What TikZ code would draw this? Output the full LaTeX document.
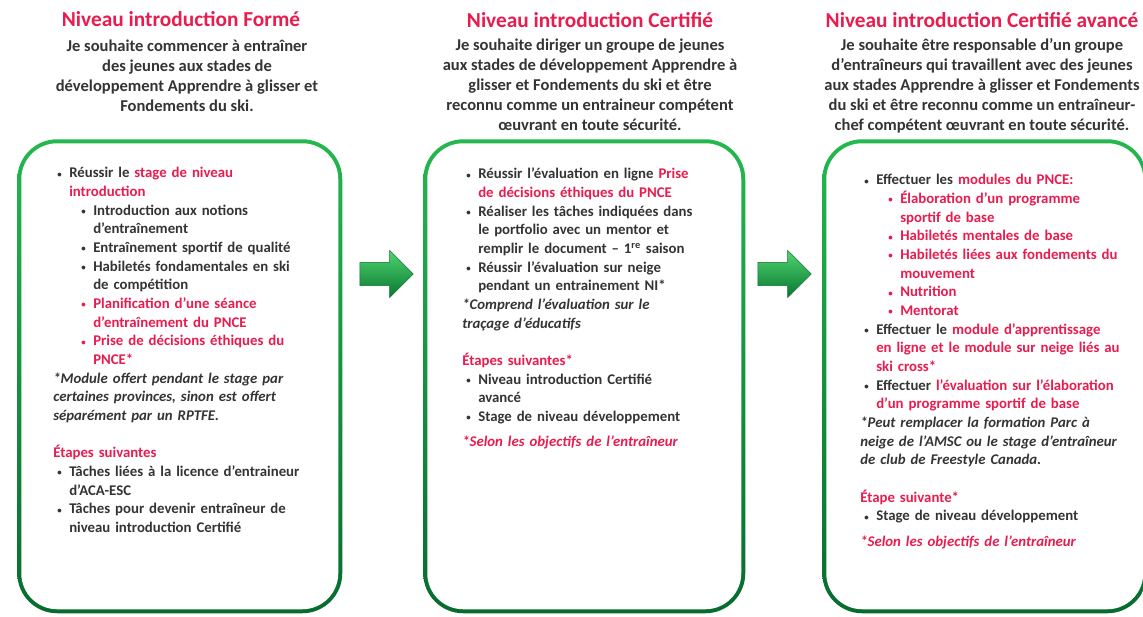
\documentclass[tikz,border=0pt]{standalone}
\usepackage{fontspec}
\setmainfont{Carlito}
\usepackage{enumitem}
\usetikzlibrary{shapes.arrows,calc}

\definecolor{stagered}{RGB}{232,28,78}
\definecolor{stagetext}{RGB}{52,52,52}
\definecolor{framelight}{RGB}{36,184,78}
\definecolor{framedark}{RGB}{6,108,46}
\definecolor{arrowlight}{RGB}{80,212,112}
\definecolor{arrowdark}{RGB}{8,118,48}

\newcommand{\rd}[1]{\textcolor{stagered}{#1}}
\newcommand{\dotbul}{\raisebox{0.1ex}{\scalebox{0.6}{\textbullet}}}
\newcommand{\rbul}{\textcolor{stagered}{\dotbul}}

\setlist[itemize]{nosep, label=\dotbul, labelsep=0pt, labelwidth=9pt, align=left}
\setlist[itemize,1]{leftmargin=12pt}
\setlist[itemize,2]{leftmargin=18pt}

\begin{document}
\begin{tikzpicture}[
  x=0.75pt, y=-0.75pt,
  stagetitle/.style={font=\fontsize{16pt}{18pt}\selectfont\bfseries, text=stagered, inner sep=0pt},
  wish/.style={font=\fontsize{12.4pt}{15pt}\selectfont\bfseries, text=stagetext, align=center, inner sep=0pt},
  stagebox/.style={rectangle, anchor=north west, rounded corners=30pt, minimum height=355.5pt,
    top color=framelight, bottom color=framedark,
    path picture={\fill[white, rounded corners=27pt]
      ([xshift=3pt,yshift=-3pt]path picture bounding box.north west) rectangle
      ([xshift=-3pt,yshift=3pt]path picture bounding box.south east);}},
  steplist/.style={anchor=north west, inner sep=0pt, text width=215pt, align=left, text=stagetext,
    font=\fontsize{11.1pt}{14pt}\selectfont\bfseries, execute at begin node=\setlength{\parindent}{0pt}},
  blockarrow/.style={single arrow, single arrow head extend=9pt, single arrow head indent=0pt,
    minimum height=40pt, text height=8.5pt, text depth=8.5pt, inner sep=0pt,
    top color=arrowlight, bottom color=arrowdark, draw=arrowdark, thin}
]
    \path[use as bounding box, fill=white] (0,0) rectangle (1143,617);

    % Titles
    \node (title1) at (181,19) [stagetitle] {Niveau introduction Formé};
    \node (title2) at (590,20) [stagetitle] {Niveau introduction Certifié};
    \node (title3) at (982,20) [stagetitle] {Niveau introduction Certifié avancé};

    % Wishes
    \node (wish1) at (187,76) [wish] {Je souhaite commencer à entraîner\\ des jeunes aux stades de\\ développement Apprendre à glisser et\\ Fondements du ski.};
    \node (wish2) at (590,85) [wish] {Je souhaite diriger un groupe de jeunes\\ aux stades de développement Apprendre à\\ glisser et Fondements du ski et être\\ reconnu comme un entraineur compétent\\ œuvrant en toute sécurité.};
    \node (wish3) at (982,86) [wish] {Je souhaite être responsable d’un groupe\\ d’entraîneurs qui travaillent avec des jeunes\\ aux stades Apprendre à glisser et Fondements\\ du ski et être reconnu comme un entraîneur-\\ chef compétent œuvrant en toute sécurité.};

    % Boxes
    \node (box1) at (17,139) [stagebox, minimum width=243.75pt] {};
    \node (box2) at (423,139) [stagebox, minimum width=241.5pt] {};
    \node (box3) at (822,139) [stagebox, minimum width=243.75pt] {};

    % Arrows
    \node (arrow1) at ($(box1.north east)!0.5!(box2.north west)+(-2,135)$) [blockarrow] {};
    \node (arrow2) at ($(box2.north east)!0.5!(box3.north west)+(-5,135)$) [blockarrow] {};

    % Formé
    \node (steps1) at (53,159) [steplist] {%
      \begin{itemize}
      \item Réussir le \rd{stage de niveau\newline introduction}
        \begin{itemize}
        \item Introduction aux notions\newline d’entraînement
        \item Entraînement sportif de qualité
        \item Habiletés fondamentales en ski\newline de compétition
        \item[\rbul] \rd{Planification d’une séance\newline d’entraînement du PNCE}
        \item[\rbul] \rd{Prise de décisions éthiques du\newline PNCE*}
        \end{itemize}
      \end{itemize}
      \textit{*Module offert pendant le stage par\newline certaines provinces, sinon est offert\newline séparément par un RPTFE.}\par
      \vspace{14pt}
      \rd{Étapes suivantes}
      \begin{itemize}
      \item Tâches liées à la licence d’entraineur\newline d’ACA-ESC
      \item Tâches pour devenir entraîneur de\newline niveau introduction Certifié
      \end{itemize}};

    % Certifié
    \node (steps2) at (462,160) [steplist] {%
      \begin{itemize}
      \item Réussir l’évaluation en ligne \rd{Prise\newline de décisions éthiques du PNCE}
      \item Réaliser les tâches indiquées dans\newline le portfolio avec un mentor et\newline remplir le document – 1\textsuperscript{re}~saison
      \item Réussir l’évaluation sur neige\newline pendant un entrainement NI*
      \end{itemize}
      \textit{*Comprend l’évaluation sur le\newline traçage d’éducatifs}\par
      \vspace{14pt}
      \rd{Étapes suivantes*}
      \begin{itemize}
      \item Niveau introduction Certifié\newline avancé
      \item Stage de niveau développement
      \end{itemize}
      \vspace{5pt}
      \rd{\textit{*Selon les objectifs de l’entraîneur}}};

    % Certifié avancé
    \node (steps3) at (860,166) [steplist] {%
      \begin{itemize}
      \item Effectuer les \rd{modules du PNCE:}
        \begin{itemize}
        \item[\rbul] \rd{Élaboration d’un programme\newline sportif de base}
        \item[\rbul] \rd{Habiletés mentales de base}
        \item[\rbul] \rd{Habiletés liées aux fondements du\newline mouvement}
        \item[\rbul] \rd{Nutrition}
        \item[\rbul] \rd{Mentorat}
        \end{itemize}
      \item Effectuer le \rd{module d’apprentissage\newline en ligne et le module sur neige liés au\newline ski cross*}
      \item Effectuer \rd{l’évaluation sur l’élaboration\newline d’un programme sportif de base}
      \end{itemize}
      \textit{*Peut remplacer la formation Parc à\newline neige de l’AMSC ou le stage d’entraîneur\newline de club de Freestyle Canada.}\par
      \vspace{14pt}
      \rd{Étape suivante*}
      \begin{itemize}
      \item Stage de niveau développement
      \end{itemize}
      \vspace{5pt}
      \rd{\textit{*Selon les objectifs de l’entraîneur}}};
\end{tikzpicture}
\end{document}
